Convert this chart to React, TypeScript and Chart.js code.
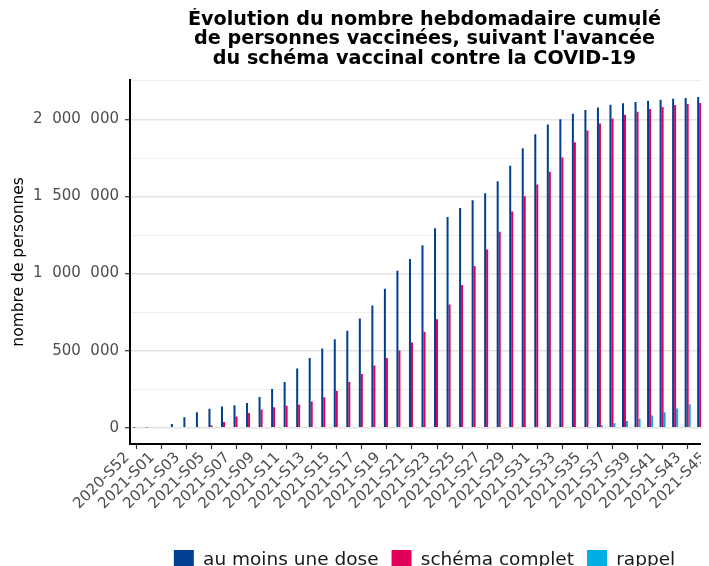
import React, { useEffect, useRef } from 'react';
import { Chart, registerables } from 'chart.js';

Chart.register(...registerables);

const FONT = "'DejaVu Sans', sans-serif";

const titleLines = [
  'Évolution du nombre hebdomadaire cumulé',
  "de personnes vaccinées, suivant l'avancée",
  'du schéma vaccinal contre la COVID-19',
];

const yAxisTitle = 'nombre de personnes';

const categories = [
  '2020-S52', '2020-S53',
  '2021-S01', '2021-S02', '2021-S03', '2021-S04', '2021-S05', '2021-S06', '2021-S07', '2021-S08', '2021-S09', '2021-S10',
  '2021-S11', '2021-S12', '2021-S13', '2021-S14', '2021-S15', '2021-S16', '2021-S17', '2021-S18', '2021-S19', '2021-S20',
  '2021-S21', '2021-S22', '2021-S23', '2021-S24', '2021-S25', '2021-S26', '2021-S27', '2021-S28', '2021-S29', '2021-S30',
  '2021-S31', '2021-S32', '2021-S33', '2021-S34', '2021-S35', '2021-S36', '2021-S37', '2021-S38', '2021-S39', '2021-S40',
  '2021-S41', '2021-S42', '2021-S43', '2021-S44', '2021-S45',
];

const auMoinsUneDose = [
  200, 600,
  5000, 23600, 67500, 100300, 122000, 137700, 146200, 159300, 198700, 251100,
  297000, 384300, 452500, 513400, 574400, 629500, 708200, 793400, 902300, 1018400,
  1095000, 1184500, 1293800, 1368000, 1425000, 1475400, 1521300, 1600000, 1700300, 1813800,
  1903600, 1967200, 2002000, 2036700, 2061000, 2078700, 2095700, 2104900, 2113400, 2122000,
  2128500, 2135100, 2139700, 2146200, 2150800,
];

const schemaComplet = [
  0, 0,
  0, 0, 0, 2000, 15000, 36700, 72100, 95700, 118000, 133100,
  141700, 148300, 170500, 196700, 240000, 297000, 347500, 404000, 452500, 500300,
  552000, 622900, 703600, 800000, 926600, 1049000, 1156000, 1272000, 1403000, 1501600,
  1577700, 1661000, 1752800, 1853100, 1927900, 1973800, 2006600, 2030200, 2050000, 2067500,
  2080600, 2093800, 2100300, 2106900, 2110000,
];

const rappel = [
  0, 0,
  0, 0, 0, 0, 0, 0, 0, 0, 0, 0,
  0, 0, 0, 0, 0, 0, 0, 0, 0, 0,
  0, 0, 0, 0, 0, 0, 0, 0, 0, 0,
  0, 0, 0, 0, 3000, 15000, 28000, 43500, 60000, 78700,
  100300, 125000, 151800, 180000, 210000,
];

const seriesLabels = ['au moins une dose', 'schéma complet', 'rappel'];
const seriesColors = ['#003f91', '#e3005a', '#00b0e4'];

const yTicks = [0, 250000, 500000, 750000, 1000000, 1250000, 1500000, 1750000, 2000000, 2250000];
const yMajorStep = 500000;
const yMin = -106000;
const yMax = 2258000;

const formatNumber = (v: number) =>
  String(Math.round(v)).replace(/\B(?=(\d{3})+(?!\d))/g, '\u2007');

export default function App() {
  const canvasRef = useRef<HTMLCanvasElement | null>(null);

  useEffect(() => {
    if (!canvasRef.current) return;
    const chart = new Chart(canvasRef.current, {
      type: 'bar',
      data: {
        labels: categories,
        datasets: [
          { label: seriesLabels[0], data: auMoinsUneDose, backgroundColor: seriesColors[0] },
          { label: seriesLabels[1], data: schemaComplet, backgroundColor: seriesColors[1] },
          { label: seriesLabels[2], data: rappel, backgroundColor: seriesColors[2] },
        ],
      },
      options: {
        animation: false,
        responsive: false,
        devicePixelRatio: 1,
        font: { family: FONT },
        layout: { padding: { left: 0, right: 0, top: 0, bottom: 0 } },
        datasets: { bar: { categoryPercentage: 0.48, barPercentage: 1.0 } },
        plugins: {
          title: {
            display: true,
            text: titleLines,
            fullSize: false,
            color: '#000000',
            font: { family: FONT, size: 19.2, weight: 'bold', lineHeight: 1.02 },
            padding: { top: 2, bottom: 11 },
          },
          legend: {
            position: 'bottom',
            fullSize: false,
            labels: {
              boxWidth: 20,
              boxHeight: 20,
              padding: 13,
              color: '#1a1a1a',
              font: { family: FONT, size: 18.5 },
            },
          },
          tooltip: { enabled: false },
        },
        scales: {
          x: {
            offset: true,
            grid: {
              display: true,
              offset: false,
              drawOnChartArea: false,
              tickLength: 5,
              tickWidth: 1.2,
              tickColor: (ctx: any) => (ctx.index % 2 === 0 ? '#333333' : 'rgba(0,0,0,0)'),
            },
            border: { display: true, color: '#000000', width: 2 },
            ticks: {
              autoSkip: false,
              minRotation: 45,
              maxRotation: 45,
              padding: 0,
              labelOffset: -9,
              color: '#4d4d4d',
              font: { family: FONT, size: 15 },
              callback: (_v: any, i: number) => (i % 2 === 0 ? categories[i] : ''),
            },
            afterFit: (axis: any) => {
              axis.height = 93;
              axis.paddingLeft = 0;
              axis.paddingRight = 0;
            },
          },
          y: {
            min: yMin,
            max: yMax,
            afterBuildTicks: (axis: any) => {
              axis.ticks = yTicks.map((v) => ({ value: v }));
            },
            afterFit: (axis: any) => {
              axis.width = 122;
            },
            grid: {
              color: (ctx: any) => (ctx.tick && ctx.tick.value % yMajorStep === 0 ? '#e4e4e4' : '#efefef'),
              lineWidth: (ctx: any) => (ctx.tick && ctx.tick.value % yMajorStep === 0 ? 1.4 : 1),
              tickLength: 5,
              tickWidth: 1.2,
              tickColor: (ctx: any) => (ctx.tick && ctx.tick.value % yMajorStep === 0 ? '#333333' : 'rgba(0,0,0,0)'),
            },
            border: { display: true, color: '#000000', width: 2 },
            ticks: {
              padding: 6,
              color: '#4d4d4d',
              font: { family: FONT, size: 15 },
              callback: (v: any) => (Number(v) % yMajorStep === 0 ? formatNumber(Number(v)) : ''),
            },
            title: {
              display: true,
              text: yAxisTitle,
              color: '#000000',
              font: { family: FONT, size: 15.5 },
              padding: { top: 2, bottom: 0 },
            },
          },
        },
      },
    });
    return () => chart.destroy();
  }, []);

  return (
    <div style={{ width: 701, height: 558, overflow: 'hidden', position: 'relative' }}>
      <canvas ref={canvasRef} width={711} height={572} style={{ display: 'block' }} />
    </div>
  );
}
